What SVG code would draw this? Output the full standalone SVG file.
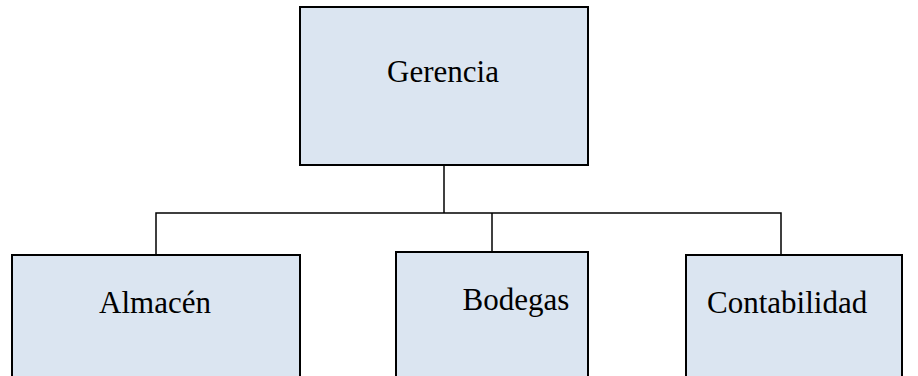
<svg xmlns="http://www.w3.org/2000/svg" width="918" height="376" viewBox="0 0 918 376">
  <style>
    .box { fill: #dbe5f1; stroke: #000; stroke-width: 2; }
    .lbl { font-family: "Liberation Serif", "Times New Roman", serif; font-size: 31px; fill: #000; }
    .conn { fill: none; stroke: #000; stroke-width: 1.5; }
  </style>
  <rect width="918" height="376" fill="#fff"/>
  <g id="connectors">
    <path class="conn" d="M444 165 V213"/>
    <path class="conn" d="M156 255 V213 H781 V255"/>
    <path class="conn" d="M492 213 V252"/>
  </g>
  <g id="gerencia">
    <rect class="box" x="300" y="7" width="288" height="158"/>
    <text class="lbl" x="443" y="82" text-anchor="middle">Gerencia</text>
  </g>
  <g id="almacen">
    <rect class="box" x="12" y="255" width="288" height="130"/>
    <text class="lbl" x="155" y="313" text-anchor="middle">Almacén</text>
  </g>
  <g id="bodegas">
    <rect class="box" x="396" y="252" width="192" height="133"/>
    <text class="lbl" x="516" y="310" text-anchor="middle">Bodegas</text>
  </g>
  <g id="contabilidad">
    <rect class="box" x="686" y="255" width="216" height="130"/>
    <text class="lbl" x="707" y="313">Contabilidad</text>
  </g>
</svg>
